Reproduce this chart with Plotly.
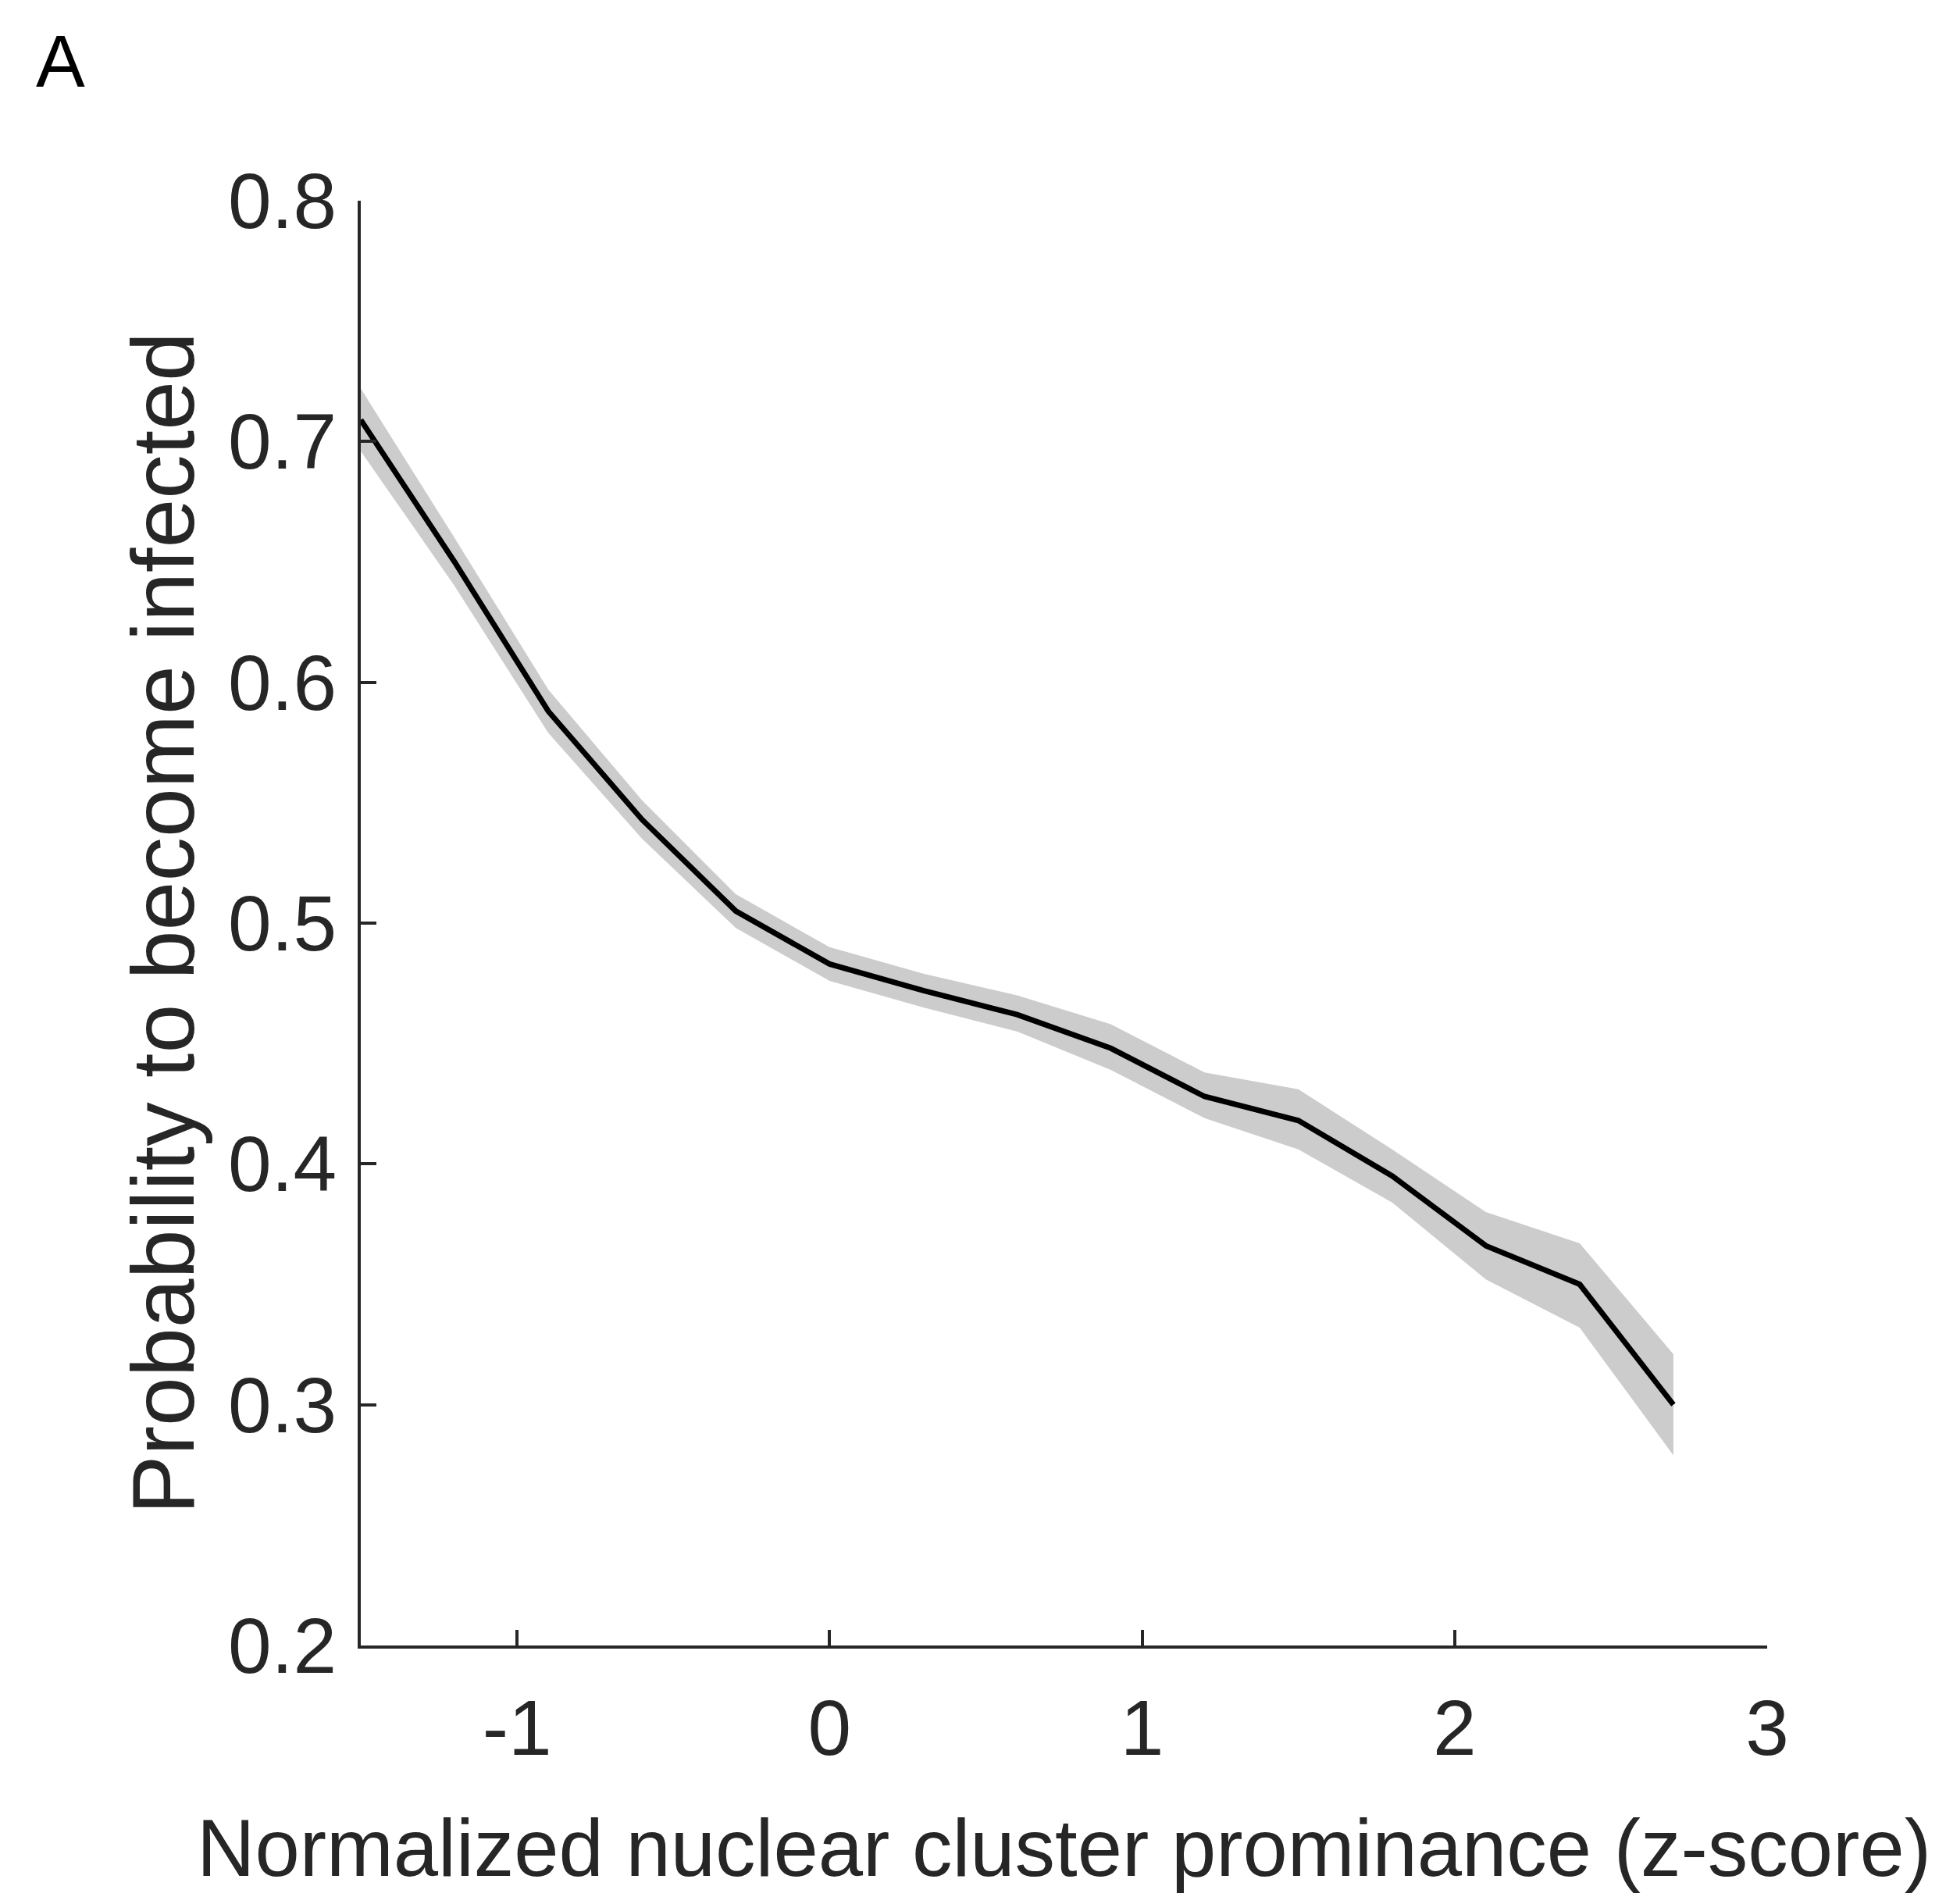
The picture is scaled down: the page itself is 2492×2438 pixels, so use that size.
import plotly.graph_objects as go

# Binned z-score of nuclear cluster prominence and infection probability
z_score = [-1.5, -1.2, -0.9, -0.6, -0.3, 0.0, 0.3, 0.6, 0.9, 1.2, 1.5, 1.8, 2.1, 2.4, 2.7]
p_infected = [0.709, 0.650, 0.588, 0.543, 0.505, 0.483, 0.472, 0.462, 0.448,
              0.428, 0.418, 0.395, 0.366, 0.350, 0.300]
ci_upper = [0.722, 0.660, 0.597, 0.551, 0.512, 0.490, 0.479, 0.470, 0.458,
            0.438, 0.431, 0.406, 0.380, 0.367, 0.321]
ci_lower = [0.696, 0.640, 0.579, 0.535, 0.498, 0.476, 0.465, 0.455, 0.439,
            0.419, 0.406, 0.384, 0.352, 0.332, 0.279]

x_ticks = [-1, 0, 1, 2, 3]
y_ticks = [0.2, 0.3, 0.4, 0.5, 0.6, 0.7, 0.8]
y_tick_text = ["0.2", "0.3", "0.4", "0.5", "0.6", "0.7", "0.8"]

axis_color = "#262626"
font_family = "Liberation Sans, Arial, Helvetica, sans-serif"

fig = go.Figure()

# Confidence band
fig.add_trace(go.Scatter(
    x=z_score, y=ci_lower, mode="lines", line=dict(width=0),
    hoverinfo="skip", showlegend=False,
))
fig.add_trace(go.Scatter(
    x=z_score, y=ci_upper, mode="lines", line=dict(width=0),
    fill="tonexty", fillcolor="#cccccc", hoverinfo="skip", showlegend=False,
))

# Mean curve
fig.add_trace(go.Scatter(
    x=z_score, y=p_infected, mode="lines",
    line=dict(color="#000000", width=7), showlegend=False,
))

fig.update_layout(
    width=2492, height=2438,
    margin=dict(l=462, r=229, t=257, b=331, autoexpand=False),
    paper_bgcolor="white", plot_bgcolor="white",
    font=dict(family=font_family, color=axis_color, size=100),
    showlegend=False,
)

fig.update_xaxes(
    range=[-1.5, 3], tickvals=x_ticks, ticktext=[str(v) for v in x_ticks],
    showline=True, linecolor=axis_color, linewidth=4,
    ticks="inside", ticklen=20, tickwidth=4, tickcolor=axis_color,
    showgrid=False, zeroline=False, automargin=False,
    tickfont=dict(size=100, color=axis_color),
    ticklabelstandoff=16,
    title=dict(text="Normalized nuclear cluster prominance (z-score)",
               font=dict(size=103, color=axis_color), standoff=64),
)
fig.update_yaxes(
    range=[0.2, 0.8], tickvals=y_ticks, ticktext=y_tick_text,
    showline=True, linecolor=axis_color, linewidth=4,
    ticks="inside", ticklen=20, tickwidth=4, tickcolor=axis_color,
    showgrid=False, zeroline=False, automargin=False,
    tickfont=dict(size=100, color=axis_color),
    ticklabelstandoff=7,
    title=dict(text="Probability to become infected",
               font=dict(size=113, color=axis_color), standoff=6),
)

# Panel letter
fig.add_annotation(
    text="A", xref="paper", yref="paper", x=0, y=1,
    xshift=-418, yshift=233, xanchor="left", yanchor="top",
    showarrow=False, font=dict(family=font_family, size=94, color="#000000"),
)

fig.write_html("out.html")
